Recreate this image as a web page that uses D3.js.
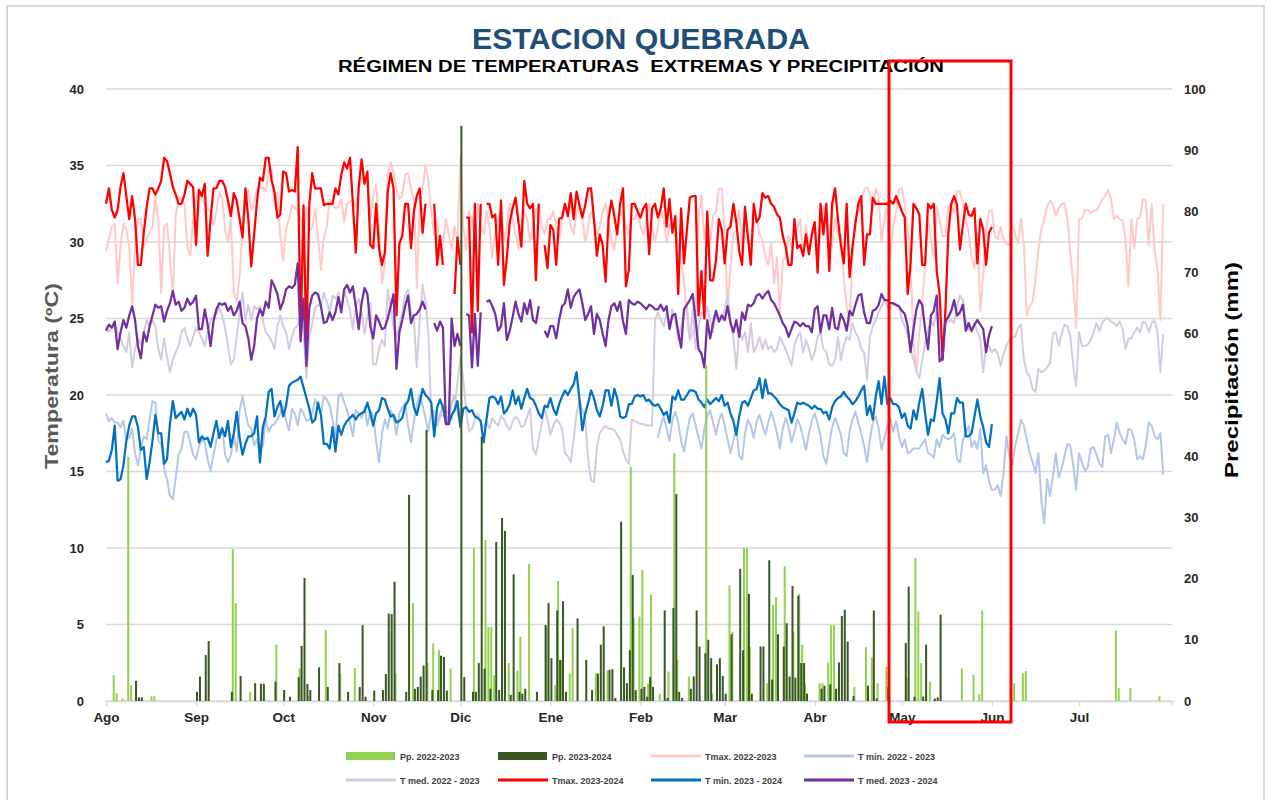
<!DOCTYPE html>
<html><head><meta charset="utf-8">
<script src="https://cdn.jsdelivr.net/npm/d3@7"></script>
<style>body{margin:0;background:#fff;}svg text{font-family:"Liberation Sans",Arial,sans-serif;}</style>
</head><body>
<svg id="c" width="1270" height="800"></svg>
<script>
// ---------- DATA ----------
const monthLabels = ["Ago","Sep","Oct","Nov","Dic","Ene","Feb","Mar","Abr","May","Jun","Jul"];
const monthStartDay = [0,31,61,92,122,153,184,213,244,274,305,335];
const tempTicks = [0,5,10,15,20,25,30,35,40];
const precipTicks = [0,10,20,30,40,50,60,70,80,90,100];
const N = null;

// Tmax 2023-2024 (daily from 1 Aug 2023)
const tmax2324 = [
32.5,33.5,32.1,31.6,32.1,33.6,34.5,33.0,31.5,33.0,31.5,28.5,28.5,30.6,32.3,33.5,33.5,33.1,33.5,34.0,35.5,35.3,34.5,33.6,33.1,32.5,32.5,33.1,34.0,33.8,33.6,
29.8,33.4,33.0,33.8,29.1,31.5,33.5,33.5,34.0,34.0,33.6,32.7,31.7,33.2,32.7,31.5,30.3,33.5,31.5,28.4,30.5,32.7,34.2,34.0,35.5,35.5,34.0,33.3,31.6,31.8,
34.6,34.5,33.3,33.4,33.3,36.2,23.8,32.4,23.0,32.5,34.5,33.5,33.5,33.5,32.4,32.5,32.5,32.5,33.5,33.1,34.4,35.2,34.8,35.5,32.5,29.3,33.6,35.4,33.8,34.6,29.8,
29.6,32.5,29.6,28.5,29.3,33.3,34.5,33.5,25.2,29.9,30.4,32.5,32.5,29.6,32.0,33.0,33.5,30.6,32.5,
N,N,32.5,28.5,30.4,28.5,N,N,N,26.6,30.3,28.5,N,31.6,31.6,24.1,32.5,25.5,32.5,N,
32.5,32.5,31.6,31.8,28.5,32.7,27.2,29.0,31.3,32.2,32.9,31.3,29.7,34.0,32.5,32.2,32.5,27.5,32.5,N,
29.8,28.3,31.1,30.8,28.5,31.5,31.6,32.5,31.7,33.2,31.5,33.3,32.4,31.6,32.4,33.5,33.5,31.5,29.1,30.5,29.8,27.4,31.5,32.7,31.7,30.5,32.5,33.5,27.1,28.2,
32.5,32.5,32.0,31.6,32.2,32.5,29.2,32.2,32.5,31.6,32.2,33.5,31.0,32.8,30.6,31.7,26.6,32.2,28.6,30.8,
32.9,33.0,33.0,25.2,28.1,25.0,32.0,27.5,27.5,28.8,31.5,30.8,28.6,30.8,31.0,32.5,31.3,29.4,28.5,32.3,
30.3,28.5,32.5,31.3,31.6,33.2,32.9,33.0,32.5,32.3,31.8,31.6,30.4,29.7,28.5,28.5,31.5,29.6,29.8,29.1,
30.5,29.2,30.5,31.3,28.0,32.5,30.5,32.5,28.1,32.5,33.5,31.5,29.8,28.6,32.5,27.7,29.7,31.2,32.5,33.0,
28.5,30.5,30.5,32.9,32.5,32.5,32.5,32.5,32.5,32.7,32.5,33.0,
32.5,32.0,31.6,26.6,28.6,32.5,32.2,31.8,28.5,28.5,32.5,32.2,32.5,28.1,26.6,22.3,25.5,30.6,32.5,33.0,32.4,29.5,31.1,32.5,31.8,31.7,32.2,28.6,31.5,30.8,28.5,30.6,31.0
];
// Tmed 2023-2024
const tmed2324 = [
24.2,24.6,24.4,24.8,23.0,24.1,24.9,24.4,25.2,25.8,24.9,23.2,22.4,24.1,23.5,24.5,25.2,25.9,25.7,25.8,24.8,25.5,26.0,26.8,25.9,26.1,25.5,25.7,26.3,25.9,26.1,
26.5,24.3,24.3,25.6,24.6,23.2,24.8,25.6,26.0,25.9,26.0,25.5,25.8,25.2,25.5,26.1,24.7,24.5,23.7,22.3,23.2,25.0,25.6,25.2,26.1,25.7,27.5,27.1,26.6,25.6,
26.1,26.9,27.1,27.0,27.2,28.6,23.5,26.3,21.9,25.7,26.5,26.7,26.6,25.8,24.7,24.8,25.4,24.9,25.4,26.4,25.4,26.9,27.2,26.7,27.1,25.8,24.3,26.0,27.0,26.6,24.5,
23.7,25.2,24.8,24.3,24.4,25.0,25.8,26.6,21.7,24.1,24.9,25.8,26.5,24.7,25.2,25.3,25.6,26.1,25.6,
N,N,24.7,24.2,24.8,24.4,18.1,18.1,25.0,23.2,24.0,23.2,N,25.3,25.2,21.8,25.3,21.9,25.4,N,
26.1,26.2,25.8,25.3,24.2,24.5,26.0,23.6,24.2,25.1,26.1,25.3,24.8,26.0,25.3,26.2,24.9,24.7,25.8,N,
24.2,23.8,24.5,24.5,23.7,24.9,25.8,26.0,26.9,25.7,26.4,26.7,26.9,26.0,24.9,25.3,25.8,24.0,25.3,24.9,24.0,23.2,24.9,25.8,26.0,25.5,26.1,24.8,24.0,26.2,
26.0,25.9,26.1,26.0,25.8,25.6,25.9,25.8,25.6,25.6,25.9,25.5,25.8,24.3,25.2,25.3,24.1,23.1,25.6,25.9,
26.2,26.6,24.9,23.0,22.7,21.8,24.9,23.7,24.7,25.5,24.8,25.2,24.9,25.8,24.7,24.1,24.9,23.8,25.4,24.9,
25.9,25.8,26.0,26.5,26.6,26.3,26.6,26.8,26.2,26.0,25.6,25.2,24.7,24.4,23.8,24.3,24.8,24.7,24.5,24.7,
24.5,24.5,24.1,25.6,25.8,24.1,25.2,25.2,24.3,25.7,24.4,24.3,25.3,24.9,24.2,25.5,25.2,25.9,26.5,26.6,
25.4,24.7,24.7,25.5,25.6,25.9,26.6,26.2,26.2,26.0,26.0,25.9,
25.8,25.5,25.3,24.5,22.8,24.3,25.6,26.2,25.9,24.3,23.0,25.2,25.5,26.5,22.2,22.4,24.8,25.1,25.5,26.2,25.2,25.4,25.9,24.2,24.7,24.2,24.6,24.9,24.6,24.3,22.8,23.9,24.5
];
// Tmin 2023-2024
const tmin2324 = [
15.6,15.7,16.4,18.0,14.4,14.5,15.4,17.0,18.0,18.6,18.6,17.9,16.4,16.6,14.5,15.6,17.0,18.7,17.5,17.5,15.5,15.8,18.1,19.6,18.5,18.7,18.9,18.4,19.1,18.6,19.1,
18.7,16.9,17.3,17.1,17.2,16.6,17.5,18.3,17.2,17.8,17.3,18.3,16.6,17.5,18.9,17.2,16.1,16.8,17.3,17.3,17.5,18.6,15.6,17.9,18.6,20.2,20.4,18.6,19.2,19.6,
18.6,19.3,20.6,20.8,20.9,21.0,21.2,20.5,19.8,19.1,18.2,18.4,19.5,18.7,16.8,16.8,16.5,17.9,16.3,18.0,17.4,18.0,18.3,18.5,18.7,18.4,18.7,18.8,18.9,
19.5,18.8,18.0,18.8,19.0,19.8,19.7,19.1,18.6,18.7,18.2,18.3,18.5,19.3,19.6,20.4,19.2,18.7,19.5,20.4,20.0,19.8,19.5,17.3,19.2,19.7,19.2,18.2,18.1,18.7,
19.0,19.6,17.9,19.1,19.2,18.9,19.0,18.6,18.5,18.3,16.9,18.4,19.8,19.9,19.8,19.4,19.9,18.8,19.0,19.4,20.3,19.4,19.9,19.1,19.8,20.4,19.8,19.7,19.3,18.8,
18.5,19.3,19.2,19.8,19.1,18.7,19.4,19.9,20.3,20.0,20.4,20.7,21.5,19.7,17.7,18.8,19.5,20.3,19.8,19.0,18.6,19.3,20.3,20.3,19.3,20.4,19.8,18.6,18.5,18.6,19.4,19.4,
19.9,20.0,19.9,20.0,19.6,19.7,19.4,19.3,19.4,19.1,18.7,18.9,18.2,19.9,19.7,20.3,19.7,19.7,20.0,20.3,
20.3,20.2,19.7,19.5,19.2,19.7,19.4,19.6,19.8,19.6,20.0,19.3,19.5,18.8,18.3,17.4,18.6,19.5,19.6,19.3,
19.8,20.3,20.4,21.1,19.8,21.0,20.1,20.1,19.9,19.7,19.4,19.2,19.1,19.0,18.2,18.8,19.5,19.4,19.5,19.4,
19.3,19.1,19.3,19.1,19.1,18.8,18.9,18.4,19.2,19.6,19.8,19.9,20.2,19.9,19.7,19.4,19.6,19.9,20.3,20.6,
18.7,19.3,18.4,19.9,20.9,19.4,21.2,19.4,19.8,19.4,19.4,
19.2,18.5,18.8,18.0,17.8,19.0,18.4,19.5,20.4,18.8,17.4,18.4,18.3,19.6,21.1,18.8,18.4,17.5,18.8,18.8,19.8,19.5,19.5,17.3,17.3,17.5,18.6,19.7,18.6,17.9,16.9,16.6,18.1
];
// Tmax 2022-2023
const tmax2223 = [
29.4,30.2,31.0,31.2,27.3,29.7,31.2,30.8,29.7,25.9,29.7,31.5,31.5,29.7,30.2,30.6,31.0,33.0,31.5,26.7,31.0,31.2,29.0,26.5,31.7,33.0,32.7,32.5,29.7,29.1,31.5,
32.8,33.4,32.9,32.4,32.2,32.0,31.1,32.0,33.2,32.9,30.8,30.0,31.5,26.7,26.1,27.8,30.9,32.5,33.4,32.1,32.7,33.4,33.5,33.6,33.3,34.7,34.7,32.4,33.2,30.4,
28.8,30.8,31.5,32.4,32.2,32.1,31.5,30.5,32.3,30.8,30.9,32.2,30.3,28.2,30.3,31.0,32.8,32.5,32.2,32.3,32.8,31.3,32.5,32.6,32.8,32.3,33.4,34.2,34.1,33.8,
31.5,33.0,33.8,31.0,27.3,28.5,34.5,35.2,34.5,33.5,32.8,33.0,34.4,34.5,33.5,32.8,27.0,32.5,33.5,35.0,
34.0,32.0,30.5,31.5,29.0,30.0,31.5,30.5,29.5,31.0,30.0,35.5,
31.0,29.5,32.0,31.5,30.0,32.5,31.0,30.5,32.0,31.0,29.0,30.5,31.5,32.0,30.0,31.0,32.5,31.5,30.5,29.5,31.0,32.0,31.5,30.0,31.0,32.0,32.5,31.0,30.5,31.5,
31.5,32.0,31.0,30.0,31.5,32.5,32.0,31.0,30.5,32.0,32.5,31.5,30.0,31.0,32.0,31.5,30.5,31.0,32.0,32.5,31.5,30.0,29.5,31.0,32.0,31.5,31.0,30.5,31.5,
31.5,32.0,31.0,30.5,31.5,32.5,31.0,30.0,31.0,32.0,31.5,30.0,31.0,31.5,30.5,30.0,
28.8,27.5,25.0,23.6,24.0,25.2,31.7,33.0,30.2,31.7,29.9,31.7,32.0,33.5,33.5,30.5,25.8,28.4,30.6,30.8,
32.1,29.5,31.5,30.5,29.7,31.2,31.4,30.5,30.1,29.0,28.5,29.9,27.3,29.0,25.4,28.8,29.0,30.4,29.7,30.4,
30.9,31.5,29.0,31.1,29.5,30.3,31.1,29.3,30.6,32.3,31.5,30.8,29.7,31.5,30.5,30.5,27.6,25.8,24.5,29.3,
31.5,31.9,32.6,33.4,33.6,33.2,32.0,33.5,33.0,30.0,31.5,32.5,29.0,31.0,32.0,
33.4,33.5,32.5,30.9,28.6,23.5,21.5,24.1,25.8,28.7,31.5,30.2,28.9,32.3,31.5,30.4,30.4,32.3,32.5,31.9,33.3,33.3,32.5,31.5,30.6,29.0,28.3,30.6,25.5,27.8,30.9,32.0,32.1,
30.4,30.2,31.0,30.2,29.9,29.8,31.2,30.5,29.9,31.5,29.8,25.2,25.8,26.1,27.5,29.5,30.8,31.5,32.3,32.7,
32.5,31.7,32.2,32.5,32.5,31.5,29.3,27.3,24.4,31.5,31.5,32.1,32.1,31.9,32.0,32.1,32.4,32.8,33.0,33.4,
32.8,31.5,31.7,31.5,31.4,30.2,27.1,31.5,29.6,31.5,31.6,32.8,32.7,29.8,32.5,29.5,28.2,24.9,32.5
];
// Tmed 2022-2023
const tmed2223 = [
24.5,24.1,24.4,24.7,24.1,23.7,23.2,22.8,24.1,21.8,23.0,23.7,23.3,24.1,24.9,24.5,24.9,24.5,23.0,22.3,
23.7,22.5,21.5,22.3,22.8,23.2,24.1,24.4,23.7,23.2,23.8,24.4,24.1,23.7,23.2,24.1,24.9,25.1,25.3,25.7,
25.2,24.4,23.2,22.0,22.3,23.8,25.3,26.7,24.9,25.9,24.9,25.8,25.6,25.8,24.9,24.1,23.9,23.5,23.0,24.5,
25.2,24.5,24.1,23.0,23.8,24.4,24.5,25.4,24.1,21.1,23.8,24.7,25.7,25.9,25.8,26.7,26.1,25.4,26.5,26.3,
26.7,25.6,26.8,26.2,25.5,24.3,25.8,26.3,25.4,24.0,25.1,26.0,
22.0,22.0,23.0,23.6,23.2,26.9,25.8,24.4,23.8,24.6,25.4,26.5,26.9,25.5,24.9,21.8,24.9,27.2,26.1,24.0,
18.5,19.0,18.2,18.8,18.6,19.0,18.8,18.4,19.2,20.8,22.5,21.0,19.0,17.6,17.8,18.4,18.8,18.2,17.9,18.3,
17.8,18.5,18.2,18.0,18.6,18.4,18.0,17.7,18.3,18.6,18.4,17.9,18.0,18.6,19.1,16.5,16.1,17.1,18.1,19.1,
18.4,17.4,18.0,18.4,18.2,17.8,16.2,16.0,15.6,17.1,18.8,19.7,19.0,18.4,15.8,14.4,14.3,16.6,17.5,17.8,
18.0,17.8,17.8,17.7,17.4,17.1,16.3,15.8,15.5,18.4,18.3,18.2,18.1,18.1,18.0,18.0,18.0,24.9,
25.4,24.9,24.5,25.4,24.5,25.6,24.9,23.6,24.5,25.4,25.8,23.6,25.6,23.0,24.5,25.4,25.0,25.8,24.9,24.1,
25.4,25.0,24.9,25.6,26.5,24.9,23.8,21.7,24.3,23.6,24.1,22.8,24.7,22.8,23.2,23.8,23.0,23.6,23.0,23.2,
22.8,23.0,23.8,23.4,23.0,22.5,21.9,23.2,23.8,24.1,22.8,23.6,23.0,22.3,22.8,23.8,24.1,23.0,22.8,22.0,
21.9,22.3,23.8,22.3,23.2,23.8,23.6,24.7,24.1,23.8,23.0,22.8,21.0,23.8,24.5,24.9,25.4,25.8,26.2,25.8,
25.6,26.0,25.8,
25.8,24.9,24.5,24.0,23.0,22.3,21.6,21.1,22.3,23.4,24.3,24.8,24.5,25.6,23.8,23.8,24.6,24.8,24.9,24.7,
25.8,26.5,26.2,24.9,24.3,24.1,24.7,24.1,23.7,21.5,23.2,23.2,22.8,23.0,22.7,21.9,22.7,23.2,23.6,23.8,
23.8,24.4,24.6,22.3,21.5,21.2,20.4,20.2,21.7,21.5,21.6,21.8,22.1,24.0,24.1,23.2,24.0,24.6,24.5,23.8,
21.9,20.6,24.1,23.2,23.2,23.3,23.6,24.1,24.7,24.2,24.7,25.0,25.0,24.8,24.7,24.5,24.8,24.3,23.0,23.7,
23.7,24.1,24.4,24.1,24.8,24.7,24.1,24.7,24.9,24.1,21.5,24.0
];
// Tmin 2022-2023
const tmin2223 = [
18.8,18.3,18.5,18.2,18.2,17.9,18.3,17.1,17.2,17.8,16.2,15.4,16.5,17.3,17.1,18.4,19.6,19.5,17.0,16.8,
15.2,14.5,13.4,13.2,14.6,16.1,16.5,17.6,17.6,16.9,16.1,15.8,16.6,17.1,16.9,15.8,15.0,16.1,17.0,17.6,
17.9,16.1,15.6,16.1,17.3,16.3,19.0,19.9,18.9,18.0,17.8,16.7,17.1,16.2,16.7,18.4,17.6,18.0,18.1,18.4,
18.8,19.3,18.3,17.7,19.1,18.8,18.0,19.1,18.8,18.3,18.4,18.8,19.7,19.3,18.8,19.9,19.7,19.3,18.4,17.1,
19.9,20.1,19.5,19.0,18.2,17.3,19.0,18.8,18.5,19.2,18.0,19.0,
18.6,17.0,15.6,17.5,18.4,17.8,19.0,18.5,17.4,18.8,19.2,19.5,18.0,16.9,18.3,19.4,20.0,19.3,18.5,17.6,
19.0,18.5,18.0,18.6,19.4,18.7,18.2,19.5,20.0,19.0,18.0,
N,N,N,N,N,N,N,N,N,N,N,N,N,N,N,N,N,N,N,N,N,N,N,N,N,N,N,N,N,N,N,N,N,N,N,N,N,N,N,N,
N,N,N,N,N,N,N,N,N,N,N,N,N,N,N,N,N,N,N,N,N,N,N,N,N,N,N,
17.2,18.0,18.6,17.8,17.0,18.4,18.9,18.2,17.0,16.3,17.5,18.5,18.8,18.0,17.2,16.5,17.8,18.6,19.0,18.2,
17.4,18.3,18.8,18.0,17.1,16.2,17.0,17.9,16.0,15.8,17.5,18.4,18.0,17.2,18.3,18.7,18.0,17.4,18.2,18.9,
18.3,17.5,16.5,17.8,18.5,17.9,16.9,17.6,18.4,18.0,17.2,16.4,17.5,18.3,18.8,18.1,17.3,16.0,15.5,16.8,
17.9,18.5,18.0,17.4,16.2,16.0,17.6,18.4,18.9,18.2,17.5,16.7,15.6,17.1,18.2,18.6,17.8,16.4,17.2,18.0,
18.5,17.6,18.3,
17.3,16.6,17.1,16.2,16.3,16.5,16.5,16.5,16.8,17.1,16.2,16.1,15.9,17.1,16.6,17.4,17.2,17.1,17.2,17.5,
15.8,15.6,17.1,17.5,18.0,16.6,17.0,16.5,17.8,14.9,15.4,14.4,13.8,13.8,14.1,13.4,14.9,17.3,16.0,15.4,
16.7,17.5,18.4,18.0,17.1,16.2,15.6,14.9,16.2,13.2,11.6,14.5,13.4,14.7,16.2,14.6,15.2,16.0,16.8,16.7,
15.4,13.8,16.2,15.6,15.0,15.3,16.5,16.6,16.1,15.5,15.3,17.3,17.4,16.2,17.1,18.2,17.5,17.1,16.8,17.8,
17.7,17.1,15.8,16.0,15.8,16.7,18.2,18.0,17.3,17.1,17.5,14.8
];
// Precipitation (mm): day index (from 1 Aug) and amount
const pp2223Day = [3,4,6,8,9,16,17,44,45,50,59,67,70,76,81,86,100,106,111,113,115,119,127,131,132,133,134,139,142,143,146,152,155,156,157,160,161,169,173,181,182,184,185,187,188,191,194,196,197,201,207,209,215,216,220,221,222,228,230,231,234,237,239,240,241,246,247,249,250,251,258,262,264,266,269,276,279,280,281,284,295,299,301,302,313,316,317,348,349,353,363];
const pp2223Val = [4.2,1.3,0.4,39.9,2.6,0.8,0.8,24.8,16,1.5,9.2,5.3,0.8,11.6,4.5,5.4,4.5,16,6.2,9.4,8.3,5.3,25,26.3,12.1,12.1,4.2,6.2,5.0,10.5,22.4,12,2.6,19.6,6.7,4.5,11.9,4.5,5.0,38.3,13.6,13.8,21.4,2.9,17.4,1.2,4.8,40.5,6.7,4.0,54.9,1.2,18.9,11.3,25,25,8.8,2.9,15.7,17,22,11.3,17.5,9.2,2.9,2.9,2.9,6.3,12.4,12.4,2.3,8.8,7.1,2.9,5.6,3.9,23.4,14.6,6.2,3.2,5.3,4.3,1.1,14.8,2.9,4.5,4.9,11.5,2.1,2.1,0.8];
const pp2324Day = [10,11,12,31,32,34,35,43,46,51,53,54,58,61,63,66,67,68,69,70,73,76,80,83,87,88,89,92,95,96,97,98,99,103,104,106,107,108,109,110,112,114,115,116,117,122,123,126,127,128,129,130,132,134,135,136,137,139,140,142,143,144,148,151,152,153,155,156,157,158,162,165,167,169,170,171,173,174,175,177,178,179,180,181,182,184,185,186,187,188,192,193,195,196,197,198,201,202,203,204,206,207,208,210,211,212,213,215,218,219,221,222,225,226,228,229,231,233,234,235,236,237,238,239,240,241,246,247,249,251,252,253,254,255,257,262,264,265,269,275,276,278,281,282,285,286,287];
const pp2324Val = [3.3,0.6,0.6,1.5,4.0,7.5,9.8,1.5,4.1,2.9,2.8,2.8,3.2,1.8,0.7,3.9,9.0,20.1,2.8,1.8,5.5,2.3,6.2,1.5,2.3,12.4,0.7,1.7,1.8,4.4,14.3,14.2,19.5,1.5,33.7,2.0,2.3,4.0,5.8,44.3,1.8,1.8,7.4,7.2,1.7,94.0,3.9,1.5,1.5,6.2,43.2,5.3,2.0,26.0,1.8,29.9,27.8,1.0,20.7,1.5,1.2,2.0,1.5,12.4,16.0,7.0,14.8,6.7,16.3,1.5,13.5,6.7,1.8,4.5,9.2,12.2,5.1,5.2,0.5,29.3,5.5,2.9,8.3,20.6,1.8,2.0,2.3,0.7,3.9,2.3,14.8,0.5,15.2,33.8,1.5,0.5,2.0,4.0,14.8,8.9,7.8,10.0,7.0,6.0,7.0,4.1,1.2,10.9,21.6,8.3,17.5,1.2,8.9,8.9,23.0,3.5,10.9,8.9,12.7,4.0,18.8,3.8,17.2,6.2,6.2,1.2,2.0,2.5,2.7,2.0,6.3,13.9,14.9,9.7,0.8,2.5,14.8,0.4,2.3,9.5,18.7,0.7,0.7,9.2,0.4,0.6,14.1];

// ---------- CHART ----------
const svg = d3.select("#c");
const x = d3.scaleLinear().domain([0, 367]).range([106, 1172]);
const yT = d3.scaleLinear().domain([0, 40]).range([701, 89]);
const yP = d3.scaleLinear().domain([0, 100]).range([701, 89]);

svg.append("rect").attr("x",7).attr("y",6).attr("width",1257).attr("height",820)
  .attr("fill","#fff").attr("stroke","#d9d9d9").attr("stroke-width",2);

// title
svg.append("text").attr("x",641).attr("y",49).attr("text-anchor","middle")
  .attr("font-size",30).attr("font-weight","bold").attr("fill","#1f4e79")
  .attr("textLength",338).attr("lengthAdjust","spacingAndGlyphs").text("ESTACION QUEBRADA");
svg.append("text").attr("x",641).attr("y",72).attr("text-anchor","middle")
  .attr("font-size",16).attr("font-weight","bold").attr("fill","#000")
  .attr("textLength",606).attr("lengthAdjust","spacingAndGlyphs")
  .text("RÉGIMEN DE TEMPERATURAS\u00A0 EXTREMAS Y PRECIPITACIÓN");

// gridlines (left axis)
svg.append("g").selectAll("line").data(tempTicks).join("line")
  .attr("x1",106).attr("x2",1172).attr("y1",d=>yT(d)).attr("y2",d=>yT(d))
  .attr("stroke","#d9d9d9").attr("stroke-width",1.5);

// left axis
const leftAxis = d3.axisLeft(yT).tickValues(tempTicks).tickSize(0).tickPadding(22);
const gl = svg.append("g").attr("transform","translate(106,0)").call(leftAxis);
gl.select(".domain").remove();
gl.selectAll("text").attr("font-size",13).attr("font-weight","bold").attr("fill","#262626")
  .attr("font-family","Liberation Sans, Arial, sans-serif");

// right axis
const rightAxis = d3.axisRight(yP).tickValues(precipTicks).tickSize(0).tickPadding(12);
const gr = svg.append("g").attr("transform","translate(1172,0)").call(rightAxis);
gr.select(".domain").remove();
gr.selectAll("text").attr("font-size",13).attr("font-weight","bold").attr("fill","#262626")
  .attr("font-family","Liberation Sans, Arial, sans-serif");

// bottom axis
const bottomAxis = d3.axisBottom(x).tickValues(monthStartDay)
  .tickFormat((d,i)=>monthLabels[i]).tickSize(5).tickPadding(6);
const gb = svg.append("g").attr("transform","translate(0,701)").call(bottomAxis);
gb.select(".domain").attr("stroke","#d9d9d9").attr("stroke-width",1.5);
gb.selectAll(".tick line").attr("stroke","#d9d9d9").attr("stroke-width",1.5);
gb.selectAll("text").attr("font-size",13.5).attr("font-weight","bold").attr("fill","#262626")
  .attr("font-family","Liberation Sans, Arial, sans-serif");

// axis titles
svg.append("text").attr("transform","translate(58,376) rotate(-90)").attr("text-anchor","middle")
  .attr("font-size",18).attr("font-weight","bold").attr("fill","#595959")
  .attr("textLength",186).attr("lengthAdjust","spacingAndGlyphs").text("Temperatura (ºC)");
svg.append("text").attr("transform","translate(1238,370) rotate(-90)").attr("text-anchor","middle")
  .attr("font-size",18).attr("font-weight","bold").attr("fill","#000")
  .attr("textLength",216).attr("lengthAdjust","spacingAndGlyphs").text("Precipitación (mm)");

// lines
const series = [
  {data:tmax2223, color:"#ffc9c9", w:2},
  {data:tmin2223, color:"#b4c7e7", w:2},
  {data:tmed2223, color:"#d4cbe0", w:2},
  {data:tmax2324, color:"#ff0000", w:2.25},
  {data:tmin2324, color:"#0070c0", w:2.25},
  {data:tmed2324, color:"#7030a0", w:2.25}
];
const line = d3.line().defined(d=>d!=null).x((d,i)=>x(i)).y(d=>yT(d));
const gLines = svg.append("g");
series.forEach(s=>{
  gLines.append("path").datum(s.data).attr("d",line).attr("fill","none")
    .attr("stroke",s.color).attr("stroke-width",s.w).attr("stroke-linejoin","round");
});

// bars (secondary axis, drawn on top)
const bw = 2.0;
const gBars = svg.append("g");
gBars.selectAll("rect.p1").data(pp2223Day.map((d,i)=>[d,pp2223Val[i]])).join("rect")
  .attr("x",d=>x(d[0])-bw).attr("width",bw).attr("y",d=>yP(d[1])).attr("height",d=>yP(0)-yP(d[1]))
  .attr("fill","#92d050");
gBars.selectAll("rect.p2").data(pp2324Day.map((d,i)=>[d,pp2324Val[i]])).join("rect")
  .attr("x",d=>x(d[0])).attr("width",bw).attr("y",d=>yP(d[1])).attr("height",d=>yP(0)-yP(d[1]))
  .attr("fill","#385723");

// legend
const legend = [
  {label:"Pp. 2022-2023", color:"#92d050", type:"box", x:346, y:756},
  {label:"Pp. 2023-2024", color:"#385723", type:"box", x:498, y:756},
  {label:"Tmax. 2022-2023", color:"#ffc9c9", type:"line", x:651, y:756},
  {label:"T min. 2022 - 2023", color:"#b4c7e7", type:"line", x:804, y:756},
  {label:"T med. 2022 - 2023", color:"#d4cbe0", type:"line", x:346, y:780},
  {label:"Tmax. 2023-2024", color:"#ff0000", type:"line", x:498, y:780},
  {label:"T min. 2023 - 2024", color:"#0070c0", type:"line", x:651, y:780},
  {label:"T med. 2023 - 2024", color:"#7030a0", type:"line", x:804, y:780}
];
const gLeg = svg.append("g");
legend.forEach(l=>{
  if(l.type==="box") gLeg.append("rect").attr("x",l.x).attr("y",l.y-4).attr("width",49).attr("height",8).attr("fill",l.color);
  else gLeg.append("line").attr("x1",l.x).attr("x2",l.x+50).attr("y1",l.y).attr("y2",l.y).attr("stroke",l.color).attr("stroke-width",3);
  gLeg.append("text").attr("x",l.x+54).attr("y",l.y+3.5).attr("font-size",9).attr("font-weight","bold")
    .attr("fill","#404040").text(l.label);
});

// highlight rectangle
svg.append("rect").attr("x",889).attr("y",61).attr("width",122).attr("height",661)
  .attr("fill","none").attr("stroke","#ff0000").attr("stroke-width",3);
</script>
</body></html>
